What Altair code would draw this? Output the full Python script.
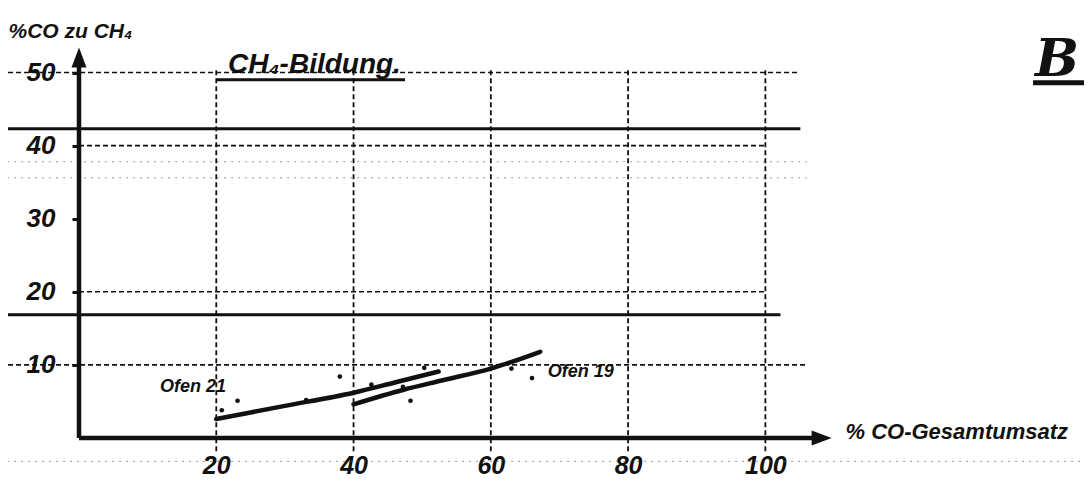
import altair as alt
import pandas as pd

# ---- data ----
ofen21_x = [20, 30, 40, 46, 52.4]
ofen21_y = [2.6, 4.4, 6.2, 7.6, 9.1]
ofen19_x = [40, 47.3, 53, 60, 67.2]
ofen19_y = [4.6, 6.6, 7.9, 9.5, 11.8]
pts_x = [20.8, 23.1, 33.1, 38.0, 42.6, 47.2, 48.3, 50.3, 63.0, 66.0]
pts_y = [3.8, 5.1, 5.2, 8.4, 7.3, 7.0, 5.1, 9.6, 9.5, 8.2]
x_ticks = [20, 40, 60, 80, 100]
y_ticks = [10, 20, 30, 40, 50]
curve_names = ["Ofen 21", "Ofen 19"]
title_text = "CH\u2084-Bildung."
y_title = "%CO zu CH\u2084"
x_title = "% CO-Gesamtumsatz"
corner_text = "B"

FONT = "Liberation Sans"
INK = "#111111"

xs = alt.Scale(domain=[0, 110], nice=False, zero=False)
ys = alt.Scale(domain=[0, 55], nice=False, zero=False)

x_axis = alt.Axis(
    values=x_ticks, domain=False, ticks=False, grid=False,
    labelFont=FONT, labelFontSize=25, labelFontStyle="italic", labelFontWeight="bold",
    labelColor=INK, labelPadding=15,
    title=x_title, titleX=766, titleY=0, titleAlign="left", titleBaseline="alphabetic",
    titleFont=FONT, titleFontSize=22, titleFontStyle="italic", titleFontWeight="bold", titleColor=INK)
y_axis = alt.Axis(
    values=y_ticks, domain=False, ticks=True, tickSize=7, tickWidth=3, tickColor=INK, grid=False,
    labelFont=FONT, labelFontSize=26, labelFontStyle="italic", labelFontWeight="bold",
    labelColor=INK, labelPadding=17,
    title=y_title, titleAngle=0, titleX=-71, titleY=1, titleAlign="left", titleBaseline="alphabetic",
    titleFont=FONT, titleFontSize=21, titleFontStyle="italic", titleFontWeight="bold", titleColor=INK)


def X(field="x"):
    return alt.X(field, type="quantitative", scale=xs, axis=x_axis, title=x_title)


def Y(field="y"):
    return alt.Y(field, type="quantitative", scale=ys, axis=y_axis, title=y_title)


# graph-paper grid (dashed)
hgrid = pd.DataFrame({"y": [50, 40, 20, 10], "x": [-11.5, 0, 0, -11.5], "x2": [105, 100, 100, 106]})
vgrid = pd.DataFrame({"x": x_ticks, "y": [50.3] * 5, "y2": [-2] * 5})
faint = pd.DataFrame({"y": [37.8, 35.6, -3.2], "x": [-11.5, -11.5, -11.5], "x2": [106, 106, 150]})
scan = pd.DataFrame({"y": [42.3, 16.85], "x": [-11.5, -11.5], "x2": [105.1, 102.2]})

grid_h = alt.Chart(hgrid).mark_rule(color=INK, strokeWidth=1.6, strokeDash=[5, 3]).encode(
    x=X("x"), x2="x2", y=Y("y"))
grid_v = alt.Chart(vgrid).mark_rule(color=INK, strokeWidth=1.8, strokeDash=[5, 3]).encode(
    x=X("x"), y=Y("y"), y2="y2")
grid_f = alt.Chart(faint).mark_rule(color="#555555", strokeWidth=1, strokeDash=[2, 5], opacity=0.6).encode(
    x=X("x"), x2="x2", y=Y("y"))
scan_l = alt.Chart(scan).mark_rule(color=INK, strokeWidth=3).encode(
    x=X("x"), x2="x2", y=Y("y"))

# axes lines + arrows
xaxis_line = alt.Chart(pd.DataFrame({"x": [0], "x2": [108.5], "y": [0]})).mark_rule(
    color=INK, strokeWidth=4.5).encode(x=X("x"), x2="x2", y=Y("y"))
yaxis_line = alt.Chart(pd.DataFrame({"x": [0], "y": [0], "y2": [52.3]})).mark_rule(
    color=INK, strokeWidth=4.5).encode(x=X("x"), y=Y("y"), y2="y2")
arrow_up = alt.Chart(pd.DataFrame({"x": [0], "y": [52.05]})).mark_point(
    shape="M0,-1L0.75,1L-0.75,1Z", size=400, filled=True, color=INK, opacity=1).encode(x=X("x"), y=Y("y"))
arrow_right = alt.Chart(pd.DataFrame({"x": [108.2], "y": [0]})).mark_point(
    shape="M1,0L-1,-0.75L-1,0.75Z", size=400, filled=True, color=INK, opacity=1).encode(x=X("x"), y=Y("y"))

# curves
c21 = alt.Chart(pd.DataFrame({"x": ofen21_x, "y": ofen21_y})).mark_line(
    color=INK, strokeWidth=4.5, interpolate="monotone", strokeCap="round").encode(x=X("x"), y=Y("y"))
c19 = alt.Chart(pd.DataFrame({"x": ofen19_x, "y": ofen19_y})).mark_line(
    color=INK, strokeWidth=4.5, interpolate="monotone", strokeCap="round").encode(x=X("x"), y=Y("y"))
pts = alt.Chart(pd.DataFrame({"x": pts_x, "y": pts_y})).mark_circle(
    color=INK, size=22, opacity=1).encode(x=X("x"), y=Y("y"))

# annotations
lab_df = pd.DataFrame({"x": [11.8, 68.3], "y": [6.3, 8.4], "t": curve_names})
labels = alt.Chart(lab_df).mark_text(
    font=FONT, fontSize=18, fontStyle="italic", fontWeight="bold", color=INK,
    align="left", baseline="alphabetic").encode(x=X("x"), y=Y("y"), text="t:N")

title_df = pd.DataFrame({"x": [21.7], "y": [50.0], "t": [title_text]})
title = alt.Chart(title_df).mark_text(
    font=FONT, fontSize=28, fontStyle="italic", fontWeight="bold", color=INK,
    align="left", baseline="alphabetic").encode(x=X("x"), y=Y("y"), text="t:N")
title_ul = alt.Chart(pd.DataFrame({"x": [20.1], "x2": [47.5], "y": [49.0]})).mark_rule(
    color=INK, strokeWidth=3).encode(x=X("x"), x2="x2", y=Y("y"))

corner_df = pd.DataFrame({"x": [139.3], "y": [49.5], "t": [corner_text]})
corner = alt.Chart(corner_df).mark_text(
    font="DejaVu Serif", fontSize=52, fontStyle="italic", fontWeight="bold", color=INK,
    align="left", baseline="alphabetic").encode(x=X("x"), y=Y("y"), text="t:N")
corner_ul = alt.Chart(pd.DataFrame({"x": [139.0], "x2": [148.0], "y": [48.6]})).mark_rule(
    color=INK, strokeWidth=5).encode(x=X("x"), x2="x2", y=Y("y"))

chart = alt.layer(
    grid_f, grid_h, grid_v, scan_l, xaxis_line, yaxis_line, arrow_up, arrow_right,
    c21, c19, pts, labels, title, title_ul, corner, corner_ul
).properties(
    width=755, height=402,
    padding={"left": 71, "top": 28, "right": 250, "bottom": 44},
    autosize=alt.AutoSizeParams(type="none"),
    background="white",
).configure_view(stroke=None)

chart.save("out.html", embed_options={"renderer": "svg", "actions": False})
